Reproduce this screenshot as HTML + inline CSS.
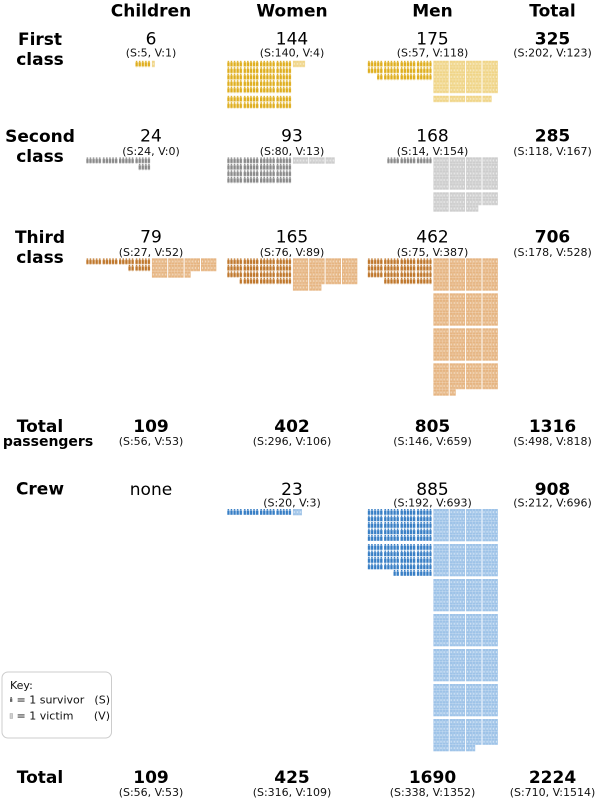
<!DOCTYPE html>
<html><head><meta charset="utf-8"><style>
html,body{margin:0;padding:0;background:#fff;}
svg{display:block;}
</style></head><body>
<svg width="600" height="800" viewBox="0 0 600 800" xmlns="http://www.w3.org/2000/svg" font-family="'DejaVu Sans','Liberation Sans',sans-serif">
<defs>
<pattern id="s1" width="16.4" height="6.5" patternUnits="userSpaceOnUse"><g fill="#dfae1e"><rect x="0.4" y="0" width="1.5" height="1.4"/><rect x="0" y="1.6" width="2.4" height="4.2"/><rect x="3.5" y="0" width="1.5" height="1.4"/><rect x="3.1" y="1.6" width="2.4" height="4.2"/><rect x="6.6" y="0" width="1.5" height="1.4"/><rect x="6.2" y="1.6" width="2.4" height="4.2"/><rect x="9.7" y="0" width="1.5" height="1.4"/><rect x="9.3" y="1.6" width="2.4" height="4.2"/><rect x="12.8" y="0" width="1.5" height="1.4"/><rect x="12.4" y="1.6" width="2.4" height="4.2"/></g></pattern>
<pattern id="v1" width="16.4" height="6.5" patternUnits="userSpaceOnUse"><g fill="#f0d588"><rect x="0" y="0" width="3" height="6.3"/><rect x="3.1" y="0" width="3" height="6.3"/><rect x="6.2" y="0" width="3" height="6.3"/><rect x="9.3" y="0" width="3" height="6.3"/><rect x="12.4" y="0" width="3" height="6.3"/></g><g fill="#f8ebc4"><rect x="0.9" y="2.2" width="1.2" height="2"/><rect x="4" y="2.2" width="1.2" height="2"/><rect x="7.1" y="2.2" width="1.2" height="2"/><rect x="10.2" y="2.2" width="1.2" height="2"/><rect x="13.3" y="2.2" width="1.2" height="2"/></g></pattern>
<pattern id="s2" width="16.4" height="6.5" patternUnits="userSpaceOnUse"><g fill="#8a8a8a"><rect x="0.4" y="0" width="1.5" height="1.4"/><rect x="0" y="1.6" width="2.4" height="4.2"/><rect x="3.5" y="0" width="1.5" height="1.4"/><rect x="3.1" y="1.6" width="2.4" height="4.2"/><rect x="6.6" y="0" width="1.5" height="1.4"/><rect x="6.2" y="1.6" width="2.4" height="4.2"/><rect x="9.7" y="0" width="1.5" height="1.4"/><rect x="9.3" y="1.6" width="2.4" height="4.2"/><rect x="12.8" y="0" width="1.5" height="1.4"/><rect x="12.4" y="1.6" width="2.4" height="4.2"/></g></pattern>
<pattern id="v2" width="16.4" height="6.5" patternUnits="userSpaceOnUse"><g fill="#cdcdcd"><rect x="0" y="0" width="3" height="6.3"/><rect x="3.1" y="0" width="3" height="6.3"/><rect x="6.2" y="0" width="3" height="6.3"/><rect x="9.3" y="0" width="3" height="6.3"/><rect x="12.4" y="0" width="3" height="6.3"/></g><g fill="#ebebeb"><rect x="0.9" y="2.2" width="1.2" height="2"/><rect x="4" y="2.2" width="1.2" height="2"/><rect x="7.1" y="2.2" width="1.2" height="2"/><rect x="10.2" y="2.2" width="1.2" height="2"/><rect x="13.3" y="2.2" width="1.2" height="2"/></g></pattern>
<pattern id="s3" width="16.4" height="6.5" patternUnits="userSpaceOnUse"><g fill="#bf772c"><rect x="0.4" y="0" width="1.5" height="1.4"/><rect x="0" y="1.6" width="2.4" height="4.2"/><rect x="3.5" y="0" width="1.5" height="1.4"/><rect x="3.1" y="1.6" width="2.4" height="4.2"/><rect x="6.6" y="0" width="1.5" height="1.4"/><rect x="6.2" y="1.6" width="2.4" height="4.2"/><rect x="9.7" y="0" width="1.5" height="1.4"/><rect x="9.3" y="1.6" width="2.4" height="4.2"/><rect x="12.8" y="0" width="1.5" height="1.4"/><rect x="12.4" y="1.6" width="2.4" height="4.2"/></g></pattern>
<pattern id="v3" width="16.4" height="6.5" patternUnits="userSpaceOnUse"><g fill="#e6b582"><rect x="0" y="0" width="3" height="6.3"/><rect x="3.1" y="0" width="3" height="6.3"/><rect x="6.2" y="0" width="3" height="6.3"/><rect x="9.3" y="0" width="3" height="6.3"/><rect x="12.4" y="0" width="3" height="6.3"/></g><g fill="#f3dcc2"><rect x="0.9" y="2.2" width="1.2" height="2"/><rect x="4" y="2.2" width="1.2" height="2"/><rect x="7.1" y="2.2" width="1.2" height="2"/><rect x="10.2" y="2.2" width="1.2" height="2"/><rect x="13.3" y="2.2" width="1.2" height="2"/></g></pattern>
<pattern id="s4" width="16.4" height="6.5" patternUnits="userSpaceOnUse"><g fill="#377ec5"><rect x="0.4" y="0" width="1.5" height="1.4"/><rect x="0" y="1.6" width="2.4" height="4.2"/><rect x="3.5" y="0" width="1.5" height="1.4"/><rect x="3.1" y="1.6" width="2.4" height="4.2"/><rect x="6.6" y="0" width="1.5" height="1.4"/><rect x="6.2" y="1.6" width="2.4" height="4.2"/><rect x="9.7" y="0" width="1.5" height="1.4"/><rect x="9.3" y="1.6" width="2.4" height="4.2"/><rect x="12.8" y="0" width="1.5" height="1.4"/><rect x="12.4" y="1.6" width="2.4" height="4.2"/></g></pattern>
<pattern id="v4" width="16.4" height="6.5" patternUnits="userSpaceOnUse"><g fill="#9ec3e8"><rect x="0" y="0" width="3" height="6.3"/><rect x="3.1" y="0" width="3" height="6.3"/><rect x="6.2" y="0" width="3" height="6.3"/><rect x="9.3" y="0" width="3" height="6.3"/><rect x="12.4" y="0" width="3" height="6.3"/></g><g fill="#d3e4f5"><rect x="0.9" y="2.2" width="1.2" height="2"/><rect x="4" y="2.2" width="1.2" height="2"/><rect x="7.1" y="2.2" width="1.2" height="2"/><rect x="10.2" y="2.2" width="1.2" height="2"/><rect x="13.3" y="2.2" width="1.2" height="2"/></g></pattern>
</defs>

<!-- Headers and row labels -->
<g font-weight="bold" font-size="17" text-anchor="middle" fill="#000">
<text x="151" y="16.5">Children</text>
<text x="292" y="16.5">Women</text>
<text x="432.5" y="16.5">Men</text>
<text x="552.5" y="16.5">Total</text>
<text x="40" y="45">First</text><text x="40" y="65">class</text>
<text x="40" y="142">Second</text><text x="40" y="162">class</text>
<text x="40" y="243">Third</text><text x="40" y="263">class</text>
<text x="40" y="432">Total</text>
<text x="48" y="446" font-size="14">passengers</text>
<text x="40" y="494.5">Crew</text>
<text x="40" y="783">Total</text>
</g>

<!-- Numbers -->
<g font-size="17" text-anchor="middle" fill="#000">
<text x="151" y="44.5">6</text><text x="292" y="44.5">144</text><text x="432.5" y="44.5">175</text>
<text x="552.5" y="44.5" font-weight="bold">325</text>
<text x="151" y="141.7">24</text><text x="292" y="141.7">93</text><text x="432.5" y="141.7">168</text>
<text x="552.5" y="141.7" font-weight="bold">285</text>
<text x="151" y="242.3">79</text><text x="292" y="242.3">165</text><text x="432.5" y="242.3">462</text>
<text x="552.5" y="242.3" font-weight="bold">706</text>
<g font-weight="bold">
<text x="151" y="432">109</text><text x="292" y="432">402</text><text x="432.5" y="432">805</text><text x="552.5" y="432">1316</text>
</g>
<text x="151" y="495">none</text><text x="292" y="495">23</text><text x="432.5" y="495">885</text>
<text x="552.5" y="495" font-weight="bold">908</text>
<g font-weight="bold">
<text x="151" y="783">109</text><text x="292" y="783">425</text><text x="432.5" y="783">1690</text><text x="552.5" y="783">2224</text>
</g>
</g>

<!-- S/V subtitles -->
<g font-size="11" text-anchor="middle" fill="#111">
<text x="151" y="56.5">(S:5, V:1)</text><text x="292" y="56.5">(S:140, V:4)</text><text x="432.5" y="56.5">(S:57, V:118)</text><text x="552.5" y="56.5">(S:202, V:123)</text>
<text x="151" y="155">(S:24, V:0)</text><text x="292" y="155">(S:80, V:13)</text><text x="432.5" y="155">(S:14, V:154)</text><text x="552.5" y="155">(S:118, V:167)</text>
<text x="151" y="256">(S:27, V:52)</text><text x="292" y="256">(S:76, V:89)</text><text x="432.5" y="256">(S:75, V:387)</text><text x="552.5" y="256">(S:178, V:528)</text>
<text x="151" y="445">(S:56, V:53)</text><text x="292" y="445">(S:296, V:106)</text><text x="432.5" y="445">(S:146, V:659)</text><text x="552.5" y="445">(S:498, V:818)</text>
<text x="292" y="506.5">(S:20, V:3)</text><text x="432.5" y="506.5">(S:192, V:693)</text><text x="552.5" y="506.5">(S:212, V:696)</text>
<text x="151" y="796">(S:56, V:53)</text><text x="292" y="796">(S:316, V:109)</text><text x="432.5" y="796">(S:338, V:1352)</text><text x="552.5" y="796">(S:710, V:1514)</text>
</g>

<!-- First class -->
<g transform="translate(86.2,60.7)"><rect x="49.2" width="14.8" height="6.5" fill="url(#s1)"/></g>
<g transform="translate(151.8,60.7)"><rect width="3" height="6.5" fill="url(#v1)"/></g>
<g transform="translate(227.2,60.7)"><rect width="64" height="32.5" fill="url(#s1)"/></g>
<g transform="translate(227.2,95.7)"><rect width="64" height="13" fill="url(#s1)"/></g>
<g transform="translate(292.8,60.7)"><rect width="12.3" height="6.5" fill="url(#v1)"/></g>
<g transform="translate(367.7,60.7)"><rect width="64" height="13" fill="url(#s1)"/><rect x="9.3" y="13" width="54.7" height="6.5" fill="url(#s1)"/></g>
<g transform="translate(433.3,60.7)"><rect width="64.6" height="32.5" fill="url(#v1)"/></g>
<g transform="translate(433.3,95.7)"><rect width="58.4" height="6.5" fill="url(#v1)"/></g>

<!-- Second class -->
<g transform="translate(86.2,157.3)"><rect width="64" height="6.5" fill="url(#s2)"/><rect x="52.3" y="6.5" width="11.7" height="6.5" fill="url(#s2)"/></g>
<g transform="translate(227.2,157.3)"><rect width="64" height="26" fill="url(#s2)"/></g>
<g transform="translate(292.8,157.3)"><rect width="42" height="6.5" fill="url(#v2)"/></g>
<g transform="translate(367.7,157.3)"><rect x="19.5" width="44.5" height="6.5" fill="url(#s2)"/></g>
<g transform="translate(433.3,157.3)"><rect width="64.6" height="32.5" fill="url(#v2)"/></g>
<g transform="translate(433.3,192.3)"><rect width="64.6" height="13" fill="url(#v2)"/><rect y="13" width="45.1" height="6.5" fill="url(#v2)"/></g>

<!-- Third class -->
<g transform="translate(86.2,258.3)"><rect width="64" height="6.5" fill="url(#s3)"/><rect x="42.1" y="6.5" width="21.9" height="6.5" fill="url(#s3)"/></g>
<g transform="translate(151.8,258.3)"><rect width="64.6" height="13" fill="url(#v3)"/><rect y="13" width="38.9" height="6.5" fill="url(#v3)"/></g>
<g transform="translate(227.2,258.3)"><rect width="64" height="19.5" fill="url(#s3)"/><rect x="12.4" y="19.5" width="51.6" height="6.5" fill="url(#s3)"/></g>
<g transform="translate(292.8,258.3)"><rect width="64.6" height="26" fill="url(#v3)"/><rect y="26" width="28.7" height="6.5" fill="url(#v3)"/></g>
<g transform="translate(367.7,258.3)"><rect width="64" height="19.5" fill="url(#s3)"/><rect x="16.4" y="19.5" width="47.6" height="6.5" fill="url(#s3)"/></g>
<g transform="translate(433.3,258.3)"><rect width="64.6" height="32.5" fill="url(#v3)"/></g>
<g transform="translate(433.3,293.3)"><rect width="64.6" height="32.5" fill="url(#v3)"/></g>
<g transform="translate(433.3,328.3)"><rect width="64.6" height="32.5" fill="url(#v3)"/></g>
<g transform="translate(433.3,363.3)"><rect width="64.6" height="26" fill="url(#v3)"/><rect y="26" width="22.5" height="6.5" fill="url(#v3)"/></g>

<!-- Crew -->
<g transform="translate(227.2,509)"><rect width="64" height="6.5" fill="url(#s4)"/></g>
<g transform="translate(292.8,509)"><rect width="9.2" height="6.5" fill="url(#v4)"/></g>
<g transform="translate(367.7,509)"><rect width="64" height="32.5" fill="url(#s4)"/></g>
<g transform="translate(367.7,544)"><rect width="64" height="26" fill="url(#s4)"/><rect x="25.7" y="26" width="38.3" height="6.5" fill="url(#s4)"/></g>
<g transform="translate(433.3,509)"><rect width="64.6" height="32.5" fill="url(#v4)"/></g>
<g transform="translate(433.3,544)"><rect width="64.6" height="32.5" fill="url(#v4)"/></g>
<g transform="translate(433.3,579)"><rect width="64.6" height="32.5" fill="url(#v4)"/></g>
<g transform="translate(433.3,614)"><rect width="64.6" height="32.5" fill="url(#v4)"/></g>
<g transform="translate(433.3,649)"><rect width="64.6" height="32.5" fill="url(#v4)"/></g>
<g transform="translate(433.3,684)"><rect width="64.6" height="32.5" fill="url(#v4)"/></g>
<g transform="translate(433.3,719)"><rect width="64.6" height="26" fill="url(#v4)"/><rect y="26" width="42" height="6.5" fill="url(#v4)"/></g>

<!-- Key -->
<rect x="2" y="672" width="109.5" height="66" rx="6" ry="6" fill="#fff" stroke="#cccccc" stroke-width="1"/>
<g font-size="11" fill="#111">
<text x="10" y="689">Key:</text>
<rect x="10.4" y="697" width="1.5" height="1.3" fill="#666"/><rect x="10" y="698.5" width="2.3" height="3.4" fill="#666"/>
<text x="16.5" y="703.5">= 1 survivor</text>
<text x="110" y="703.5" text-anchor="end">(S)</text>
<rect x="10" y="713.5" width="2.6" height="5" fill="#d0d0d0" stroke="#999" stroke-width="0.4"/>
<text x="16.5" y="719.5">= 1 victim</text>
<text x="110" y="719.5" text-anchor="end">(V)</text>
</g>
</svg>
</body></html>
